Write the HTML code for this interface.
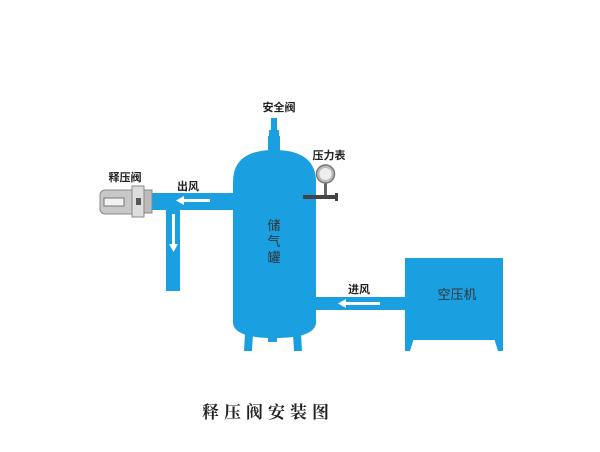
<!DOCTYPE html>
<html><head><meta charset="utf-8"><style>
html,body{margin:0;padding:0;background:#fff;}
svg{display:block;}
text{font-family:"Liberation Sans","Noto Sans CJK SC",sans-serif;fill:#222;}
</style></head><body>
<svg width="600" height="452" viewBox="0 0 600 452" xmlns="http://www.w3.org/2000/svg">
<rect width="600" height="452" fill="#fff"/>
<g fill="#1a9fe0">
<path d="M233 182 Q233 150 274 150 Q316 150 316 182 L316 322 Q316 338 274 338 Q233 338 233 322 Z"/>
<rect x="268" y="334" width="9" height="8"/>
<polygon points="245,334 253,334 252,351 244,351"/>
<polygon points="293,334 301,334 302,351 294,351"/>
<rect x="271" y="118" width="6" height="14"/>
<rect x="269" y="130" width="10" height="6"/>
<rect x="268" y="136" width="12" height="16"/>
<rect x="152" y="193" width="82" height="17"/>
<rect x="166" y="193" width="14" height="98"/>
<rect x="315" y="297" width="91" height="13"/>
<rect x="405" y="258" width="98" height="82"/>
<polygon points="405,338 414,338 410,351 405,351"/>
<polygon points="494,338 503,338 503,351 498,351"/>
</g>
<g fill="#fff">
<rect x="182" y="199" width="28" height="3"/>
<polygon points="176,200.5 184,196 184,205"/>
<rect x="172" y="214" width="3" height="32"/>
<polygon points="173.5,252 169,244 178,244"/>
<rect x="344" y="302" width="36" height="3"/>
<polygon points="338,303.5 346,299 346,308"/>
</g>
<rect x="324" y="180" width="3" height="15" fill="#666"/>
<circle cx="325.5" cy="174" r="9" fill="#bbb" stroke="#777" stroke-width="1.5"/>
<circle cx="325.5" cy="174" r="6" fill="#eee"/>
<rect x="303" y="195" width="33" height="4" fill="#444"/>
<rect x="335" y="193" width="3" height="8" fill="#444"/>
<rect x="100" y="190" width="38" height="24" rx="5" fill="#c8c8c8" stroke="#888"/>
<rect x="104" y="198" width="20" height="8" fill="#f2f2f2" stroke="#777"/>
<rect x="132" y="186" width="12" height="31" fill="#ddd" stroke="#888"/>
<rect x="144" y="190" width="8" height="23" fill="#bbb" stroke="#888"/>
<rect x="136" y="198" width="5" height="7" fill="#555"/>
<g font-size="11" font-weight="bold" text-anchor="middle">
<text x="279" y="111">安全阀</text>
<text x="329" y="159">压力表</text>
<text x="125" y="181">释压阀</text>
<text x="188" y="190">出风</text>
<text x="359" y="293">进风</text>
</g>
<g font-size="13" text-anchor="middle">
<text x="274" y="230" style="fill:#333">储</text>
<text x="274" y="246" style="fill:#333">气</text>
<text x="274" y="262" style="fill:#333">罐</text>
<text x="457" y="299" style="fill:#333">空压机</text>
</g>
<text x="268" y="418" font-size="17" font-weight="bold" text-anchor="middle" letter-spacing="5" style="font-family:'Noto Serif CJK SC','Liberation Serif',serif;fill:#222">释压阀安装图</text>
</svg>
</body></html>
